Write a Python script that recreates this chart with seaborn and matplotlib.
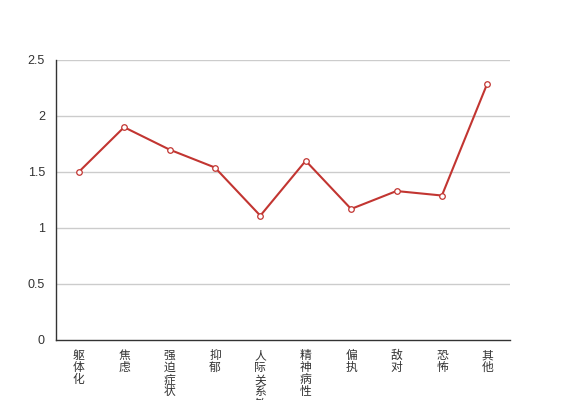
import matplotlib
matplotlib.use('Agg')
import matplotlib.pyplot as plt
import numpy as np
import pandas as pd
import seaborn as sns

categories = ['躯体化', '焦虑', '强迫症状', '抑郁', '人际关系敏感', '精神病性', '偏执', '敌对', '恐怖', '其他']
values = [1.5, 1.9, 1.7, 1.54, 1.11, 1.6, 1.17, 1.33, 1.29, 2.29]
y_ticks = [0, 0.5, 1, 1.5, 2, 2.5]
y_tick_labels = ['0', '0.5', '1', '1.5', '2', '2.5']

sns.set_style('white')
plt.rcParams['font.family'] = ['Noto Sans CJK SC', 'DejaVu Sans']

df = pd.DataFrame({'idx': np.arange(len(categories)), 'value': values})

fig = plt.figure(figsize=(5.67, 4.0), dpi=100)
ax = fig.add_axes([56 / 567, 60 / 400, 454 / 567, 280 / 400])

for y in y_ticks[1:]:
    ax.axhline(y, color='#cccccc', linewidth=1, zorder=0)

sns.lineplot(data=df, x='idx', y='value', ax=ax, color='#c23531', linewidth=1.5,
             marker='o', markersize=4, markerfacecolor='white',
             markeredgecolor='#c23531', markeredgewidth=0.9, zorder=3)

ax.set_xlim(-0.5, len(categories) - 0.5)
ax.set_ylim(0, 2.5)

ax.set_xticks(range(len(categories)))
ax.set_xticklabels(['\n'.join(c) for c in categories], fontsize=8.5, color='#333333',
                   linespacing=0.91, va='top')
ax.tick_params(axis='x', which='major', length=0, pad=6.5)
ax.set_xticks(np.arange(-0.5, len(categories), 1.0), minor=True)
ax.tick_params(axis='x', which='minor', length=5, width=1, color='#333333', direction='out')

ax.set_yticks(y_ticks)
ax.set_yticklabels(y_tick_labels, fontsize=9, color='#333333', family=['Liberation Sans'])
ax.tick_params(axis='y', length=5, width=1, color='#333333', direction='out', pad=3)

for s in ['top', 'right']:
    ax.spines[s].set_visible(False)
for s in ['left', 'bottom']:
    ax.spines[s].set_color('#333333')
    ax.spines[s].set_linewidth(1)

ax.set_xlabel('')
ax.set_ylabel('')

fig.savefig('out.png', dpi=100)
